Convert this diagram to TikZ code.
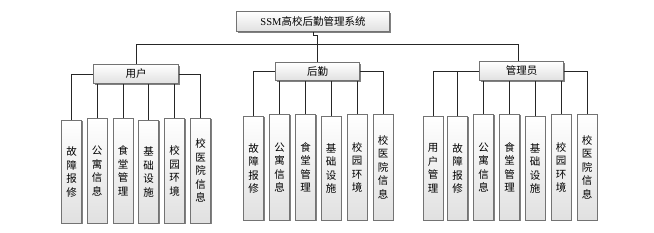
\documentclass[tikz,border=0pt]{standalone}
\usepackage{fontspec}
\setmainfont{Liberation Serif}
\newfontfamily\cjk{Noto Sans CJK SC}
\usetikzlibrary{shadows}
\tikzset{
  box/.style={draw=black!55, line width=0.6pt, top color=white, bottom color=black!12,
    drop shadow={shadow xshift=1pt, shadow yshift=-1pt, fill=black!50, opacity=1},
    inner sep=0pt, font=\cjk\fontsize{10.5}{13.5}\selectfont, align=center},
  kidbox/.style={box, anchor=north, minimum width=20pt},
  link/.style={draw=black!85, line width=0.9pt}
}
\begin{document}
\begin{tikzpicture}[x=1pt,y=-1pt]
\useasboundingbox (0,0) rectangle (654,233);
% top
\node[box, minimum width=153pt, minimum height=20pt] (top) at (313,21.5) {\rmfamily SSM\cjk 高校后勤管理系统};
% parents
\node[box, minimum width=85pt, minimum height=19pt] (user) at (136,74) {用户};
\node[box, minimum width=84pt, minimum height=18pt] (hq) at (317.5,71.5) {后勤};
\node[box, minimum width=84pt, minimum height=19pt] (mgr) at (521.5,71) {管理员};
% group 1
\node[kidbox, minimum height=103pt] (u1) at (71.5,120) {故\\障\\报\\修};
\node[kidbox, minimum height=105pt] (u2) at (97,118) {公\\寓\\信\\息};
\node[kidbox, minimum height=105pt] (u3) at (123,118) {食\\堂\\管\\理};
\node[kidbox, minimum height=103pt] (u4) at (148.5,120) {基\\础\\设\\施};
\node[kidbox, minimum height=105pt] (u5) at (174.5,118) {校\\园\\环\\境};
\node[kidbox, minimum height=105pt] (u6) at (200.5,118) {校\\医\\院\\信\\息};
% group 2
\node[kidbox, minimum height=104pt] (h1) at (253.5,116) {故\\障\\报\\修};
\node[kidbox, minimum height=106pt] (h2) at (279.5,114) {公\\寓\\信\\息};
\node[kidbox, minimum height=106pt] (h3) at (305.5,114) {食\\堂\\管\\理};
\node[kidbox, minimum height=104pt] (h4) at (331,116) {基\\础\\设\\施};
\node[kidbox, minimum height=106pt] (h5) at (357,114) {校\\园\\环\\境};
\node[kidbox, minimum height=106pt] (h6) at (383,114) {校\\医\\院\\信\\息};
% group 3
\node[kidbox, minimum height=104pt] (m1) at (433,116) {用\\户\\管\\理};
\node[kidbox, minimum height=104pt] (m2) at (457.5,116) {故\\障\\报\\修};
\node[kidbox, minimum height=106pt] (m3) at (483.5,114) {公\\寓\\信\\息};
\node[kidbox, minimum height=106pt] (m4) at (509.5,114) {食\\堂\\管\\理};
\node[kidbox, minimum height=104pt] (m5) at (535,116) {基\\础\\设\\施};
\node[kidbox, minimum height=106pt] (m6) at (561,114) {校\\园\\环\\境};
\node[kidbox, minimum height=106pt] (m7) at (587,114) {校\\医\\院\\信\\息};
% bus
\coordinate (b1) at (136,44);
\coordinate (b2) at (317,44);
\coordinate (b3) at (518,44);
\draw[link] (top.south) -- ++(0,4) -| (b2);
\draw[link] (b1) -- (b3);
\draw[link] (b1) -- (b1 |- user.north);
\draw[link] (b2) -- (b2 |- hq.north);
\draw[link] (b3) -- (b3 |- mgr.north);
% group 1 links
\draw[link] (user.west) -| (u1.north);
\draw[link] (user.east) -| (u6.north);
\foreach \k in {u2,u3,u4,u5} \draw[link] (\k.north) -- (\k.north |- user.south);
% group 2 links
\draw[link] (hq.west) -| (h1.north);
\draw[link] (hq.east) -| (h6.north);
\foreach \k in {h2,h3,h4,h5} \draw[link] (\k.north) -- (\k.north |- hq.south);
% group 3 links
\draw[link] (mgr.west) -| (m1.north);
\draw[link] (m2.north) -- (m2.north |- mgr.west);
\draw[link] (mgr.east) -| (m7.north);
\foreach \k in {m3,m4,m5,m6} \draw[link] (\k.north) -- (\k.north |- mgr.south);
\end{tikzpicture}
\end{document}
